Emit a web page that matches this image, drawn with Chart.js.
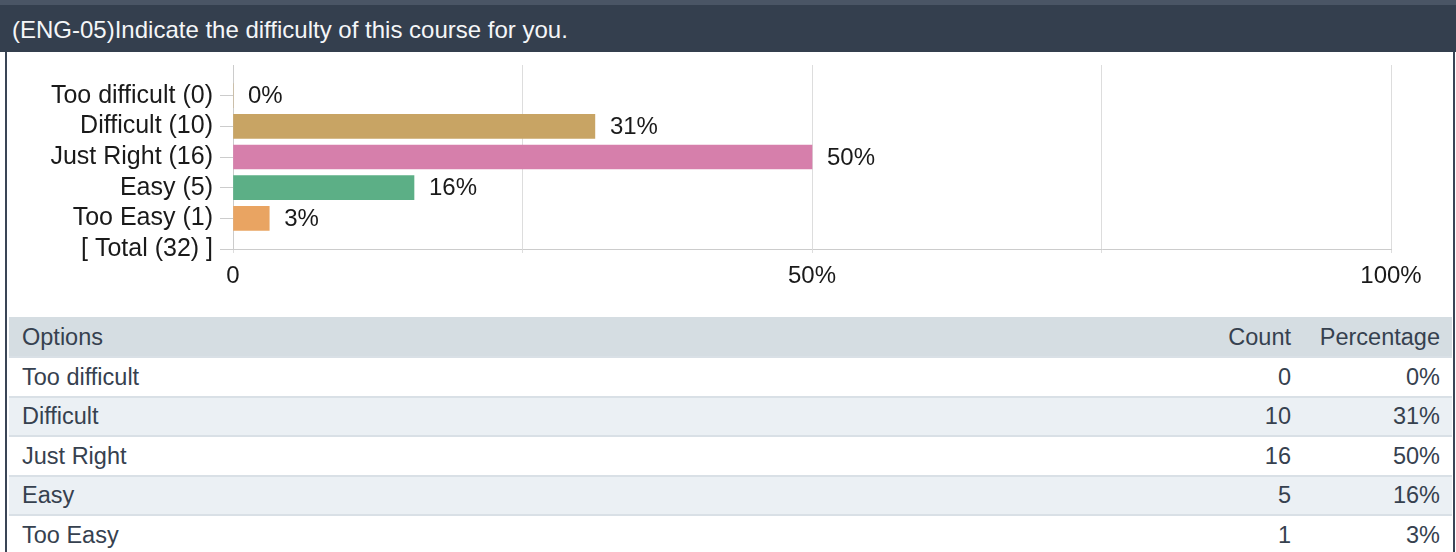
<!DOCTYPE html>
<html>
<head>
<meta charset="utf-8">
<script src="https://cdn.jsdelivr.net/npm/chart.js@4.4.1/dist/chart.umd.min.js"></script>
<style>
  html, body { margin: 0; padding: 0; background: #ffffff; }
  body { width: 1456px; height: 552px; position: relative; overflow: hidden;
         font-family: "Liberation Sans", Arial, Helvetica, sans-serif; }
  #topstrip { position: absolute; left: 0; top: 0; width: 1456px; height: 5px; background: #4a5565; }
  #header { position: absolute; left: 0; top: 5px; width: 1456px; height: 47px; background: #343f4e;
            color: #f4f6f8; font-size: 24px; line-height: 50px; padding-left: 12px; box-sizing: border-box; white-space: nowrap; overflow: hidden; }
  #panel { position: absolute; left: 5px; top: 52px; width: 1450px; height: 520px;
           border-left: 2px solid #3a4556; border-right: 2px solid #3a4556; box-sizing: border-box; }
  #chartbox { position: absolute; left: 7px; top: 52px; width: 1446px; height: 265px; }
  #tbl { position: absolute; left: 9px; top: 317px; width: 1443px; font-size: 23.5px; color: #36414f; }
  .tr { position: relative; box-sizing: border-box; height: 39.5px; border-top: 2px solid #d9e0e6; white-space: nowrap; }
  .tr.head { height: 39px; border-top: none; background: #d5dde2; }
  .tr.alt { background: #ebf0f4; }
  .tr span { position: absolute; top: 50%; transform: translateY(-50%); }
  .c0 { left: 13px; }
  .c1 { right: 161px; }
  .c2 { right: 12px; }
</style>
</head>
<body>
<div id="topstrip"></div>
<div id="header"></div>
<div id="panel"></div>
<div id="chartbox"><canvas id="c" width="1446" height="265"></canvas></div>
<div id="tbl"></div>
<script>
const title = "(ENG-05)Indicate the difficulty of this course for you.";
const options = ["Too difficult", "Difficult", "Just Right", "Easy", "Too Easy"];
const counts = [0, 10, 16, 5, 1];
const total = 32;
const percentages = [0, 31.25, 50, 15.63, 3.13];
const percentLabels = ["0%", "31%", "50%", "16%", "3%"];
const barColors = ["#c8a464", "#c8a464", "#d67fab", "#5caf86", "#e9a462"];
const tableHeaders = ["Options", "Count", "Percentage"];
const xTickLabels = { 0: "0", 25: "", 50: "50%", 75: "", 100: "100%" };

document.getElementById("header").textContent = title;

// Chart categories: blank top slot, options with counts, and the total row at the axis
const categories = [""].concat(options.map((o, i) => o + " (" + counts[i] + ")"), ["[ Total (" + total + ") ]"]);
const barData = [null].concat(percentages, [null]);
const barBg = ["rgba(0,0,0,0)"].concat(barColors, ["rgba(0,0,0,0)"]);

const valueLabelPlugin = {
  id: "valueLabels",
  afterDatasetsDraw(chart) {
    const ctx = chart.ctx;
    const meta = chart.getDatasetMeta(0);
    ctx.save();
    ctx.font = "24px 'Liberation Sans', Arial, sans-serif";
    ctx.fillStyle = "#1a1a1a";
    ctx.textAlign = "left";
    ctx.textBaseline = "middle";
    meta.data.forEach((bar, i) => {
      const v = barData[i];
      if (v === null || v === undefined) return;
      ctx.fillText(percentLabels[i - 1], bar.x + 15, bar.y + 1);
    });
    ctx.restore();
  }
};

new Chart(document.getElementById("c"), {
  type: "bar",
  data: {
    labels: categories,
    datasets: [{
      data: barData,
      backgroundColor: barBg,
      borderWidth: 0,
      barThickness: 24
    }]
  },
  options: {
    indexAxis: "y",
    responsive: false,
    animation: false,
    devicePixelRatio: 1,
    layout: { padding: { top: 13, right: 62, left: 0, bottom: 0 } },
    plugins: { legend: { display: false }, tooltip: { enabled: false }, title: { display: false } },
    scales: {
      y: {
        type: "category",
        offset: false,
        grid: {
          offset: false,
          drawOnChartArea: false,
          drawTicks: true,
          tickLength: 13,
          tickColor: (c) => (c.index === 0 ? "rgba(0,0,0,0)" : "#cccccc"),
          lineWidth: 1
        },
        border: { display: true, color: "#cccccc", width: 1 },
        ticks: {
          color: "#1a1a1a",
          padding: 7,
          autoSkip: false,
          font: { family: "'Liberation Sans', Arial, sans-serif", size: 25 }
        },
        afterFit(scale) { scale.width = 226; scale.paddingTop = 0; scale.paddingBottom = 0; }
      },
      x: {
        type: "linear",
        min: 0,
        max: 100,
        ticks: {
          stepSize: 25,
          color: "#1a1a1a",
          padding: 9,
          maxRotation: 0,
          autoSkip: false,
          font: { family: "'Liberation Sans', Arial, sans-serif", size: 24 },
          callback: (v) => (xTickLabels[v] !== undefined ? xTickLabels[v] : "")
        },
        grid: { color: "#dddddd", tickColor: "#dddddd", tickLength: 4, lineWidth: 1 },
        border: { display: true, color: "#cccccc", width: 1 },
        afterFit(scale) { scale.height = 68; scale.paddingLeft = 0; scale.paddingRight = 0; }
      }
    }
  },
  plugins: [valueLabelPlugin]
});

// Table
const tbl = document.getElementById("tbl");
let html = '<div class="tr head"><span class="c0">' + tableHeaders[0] + '</span><span class="c1">' + tableHeaders[1] +
           '</span><span class="c2">' + tableHeaders[2] + '</span></div>';
options.forEach((o, i) => {
  html += '<div class="tr' + (i % 2 === 1 ? ' alt' : '') + '"><span class="c0">' + o + '</span><span class="c1">' + counts[i] +
          '</span><span class="c2">' + percentLabels[i] + '</span></div>';
});
tbl.innerHTML = html;
</script>
</body>
</html>
